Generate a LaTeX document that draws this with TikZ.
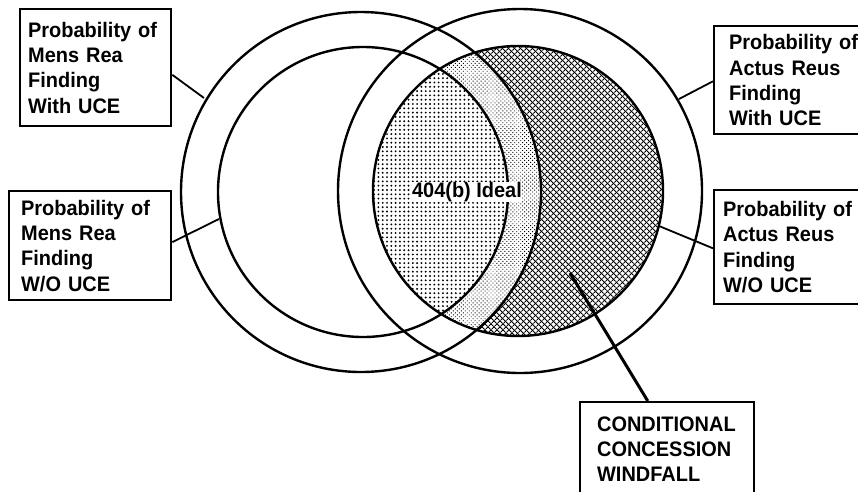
\documentclass[tikz,border=0pt]{standalone}
\usepackage{fontspec}
\setmainfont[FakeStretch=0.95]{Liberation Sans}
\usetikzlibrary{patterns.meta,calc}
\hyphenpenalty=10000
\exhyphenpenalty=10000
\begin{document}
\begin{tikzpicture}[x=1pt,y=-1pt,
  lbl/.style={draw, line width=2.3pt, anchor=north west, align=left,
    font=\fontsize{21}{25.3}\selectfont\bfseries,
    inner ysep=0pt},
  ring/.style={line width=2.4pt},
  lead/.style={line width=1.8pt},
  leadthick/.style={line width=3pt}]
\useasboundingbox (0,0) rectangle (858,491);
\coordinate (LO) at (361,192);
\coordinate (LI) at (363,192);
\coordinate (RO) at (520,191);
\coordinate (RI) at (518,191);
% dense dots: inside both inner circles
\begin{scope}
  \clip (LI) circle[radius=145];
  \fill[pattern={Dots[radius=1.05pt,distance=4.3pt]}] (RI) circle[radius=145];
\end{scope}
% light dots: inside right inner and left outer, outside left inner
\begin{scope}
  \clip (RI) circle[radius=145];
  \fill[even odd rule, pattern={Dots[radius=0.65pt,distance=2.8pt,angle=45]}]
    (LO) circle[radius=180] (LI) circle[radius=145];
\end{scope}
% crosshatch: inside right inner, outside left outer
\begin{scope}
  \clip (RI) circle[radius=145];
  \fill[even odd rule, pattern={Lines[angle=45,distance=4pt,line width=1.1pt]}]
    (RI) circle[radius=145] (LO) circle[radius=180];
  \fill[even odd rule, pattern={Lines[angle=-45,distance=4pt,line width=1.1pt]}]
    (RI) circle[radius=145] (LO) circle[radius=180];
\end{scope}
% circles
\draw[ring] (LO) circle[radius=180];
\draw[ring] (LI) circle[radius=145];
\draw[ring] (RO) circle[radius=182];
\draw[ring] (RI) circle[radius=145];
% centre label
\node[fill=white, inner sep=0.5pt, font=\fontsize{21}{25}\selectfont\bfseries] (ideal) at (467,192) {404(b) Ideal};
% boxes
\node[lbl, inner xsep=8pt, text width=135pt, minimum height=117pt] (b1) at (19,8)
  {Probability of\\Mens Rea\\Finding\\With UCE};
\node[lbl, inner xsep=12pt, text width=138pt, minimum height=109pt] (b2) at (8,190)
  {Probability of\\Mens Rea\\Finding\\W/O UCE};
\node[lbl, inner xsep=15pt, text width=140pt, minimum height=108pt] (b3) at (713,25)
  {Probability of\\Actus Reus\\Finding\\With UCE};
\node[lbl, inner xsep=9pt, text width=145pt, minimum height=114pt] (b4) at (713,189)
  {Probability of\\Actus Reus\\Finding\\W/O UCE};
\node[lbl, inner xsep=17pt, text width=140pt, minimum height=94pt] (b5) at (579,401)
  {CONDITIONAL\\CONCESSION\\WINDFALL};
% connector ends
\coordinate (c1) at (204,98);
\coordinate (c2) at (219,219);
\coordinate (c3) at (679,99);
\coordinate (c4) at (659,226);
\coordinate (c5) at (570,273);
\draw[lead] ($(b1.north east)!0.56!(b1.south east)$) -- (c1);
\draw[lead] ($(b2.north east)!0.468!(b2.south east)$) -- (c2);
\draw[lead] ($(b3.north west)!0.51!(b3.south west)$) -- (c3);
\draw[lead] ($(b4.north west)!0.51!(b4.south west)$) -- (c4);
\draw[leadthick] ($(b5.north west)!0.39!(b5.north east)$) -- (c5);
\end{tikzpicture}
\end{document}
